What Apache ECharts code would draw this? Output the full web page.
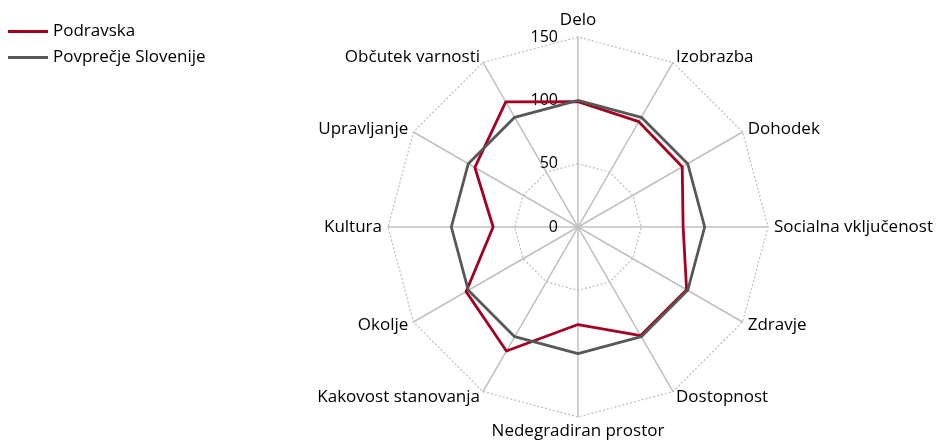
<!DOCTYPE html>
<html>
<head>
<meta charset="utf-8">
<script src="https://cdn.jsdelivr.net/npm/echarts@6/dist/echarts.min.js"></script>
<style>
  html, body { margin: 0; padding: 0; background: #fff; }
  #chart { width: 939px; height: 441px; }
</style>
</head>
<body>
<div id="chart"></div>
<script>
// kazalniki v smeri urinega kazalca, od zgoraj
var categories = ['Delo', 'Izobrazba', 'Dohodek', 'Socialna vključenost', 'Zdravje', 'Dostopnost',
                  'Nedegradiran prostor', 'Kakovost stanovanja', 'Okolje', 'Kultura', 'Upravljanje', 'Občutek varnosti'];
var podravska = [99, 96, 95, 83, 99, 99, 77, 113, 102, 67, 94, 114];
var slovenija = [100, 100, 100, 100, 100, 100, 100, 100, 100, 100, 100, 100];
var seriesNames = ['Podravska', 'Povprečje Slovenije'];
var tickLabels = ['0', '50', '100', '150'];

// echarts riše radar v nasprotni smeri, zato obrnemo vrstni red (prvi ostane zgoraj)
function ccw(arr) {
    return [arr[0]].concat(arr.slice(1).reverse());
}

var FONT = '"Open Sans", "Noto Sans", sans-serif';

function radarChart() {
    var myChart = echarts.init(document.getElementById('chart'));
    var indicator = ccw(categories).map(function (name, i) {
        var ind = { name: name, min: 0, max: 150 };
        if (i === 0) {
            ind.axisLabel = {
                show: true,
                color: '#000',
                fontSize: 16,
                fontFamily: FONT,
                margin: 20,
                formatter: function (v) { return tickLabels.indexOf(String(v)) >= 0 ? String(v) : ''; }
            };
        }
        return ind;
    });
    var option = {
        animation: false,
        legend: {
            data: seriesNames,
            orient: 'vertical',
            left: 3,
            top: 18,
            icon: 'rect',
            itemWidth: 40,
            itemHeight: 3,
            itemGap: 9,
            textStyle: { color: '#000', fontSize: 17, fontFamily: FONT }
        },
        radar: {
            center: [578, 227],
            radius: 190,
            startAngle: 90,
            splitNumber: 3,
            shape: 'polygon',
            axisName: { color: '#000', fontSize: 17, fontFamily: FONT },
            nameGap: 6,
            axisLine: { lineStyle: { color: '#c0c0c0', width: 1.5 } },
            splitLine: { lineStyle: { color: '#bdbdbd', width: 1.2, type: [2, 2] } },
            splitArea: { show: false },
            axisLabel: { show: false },
            indicator: indicator
        },
        series: [{
            type: 'radar',
            symbol: 'none',
            data: [
                {
                    name: seriesNames[0],
                    value: ccw(podravska),
                    lineStyle: { color: '#a50021', width: 2.8 },
                    itemStyle: { color: '#a50021' }
                },
                {
                    name: seriesNames[1],
                    value: ccw(slovenija),
                    lineStyle: { color: '#585858', width: 2.8 },
                    itemStyle: { color: '#585858' }
                }
            ]
        }]
    };
    myChart.setOption(option);
}
radarChart();
</script>
</body>
</html>
